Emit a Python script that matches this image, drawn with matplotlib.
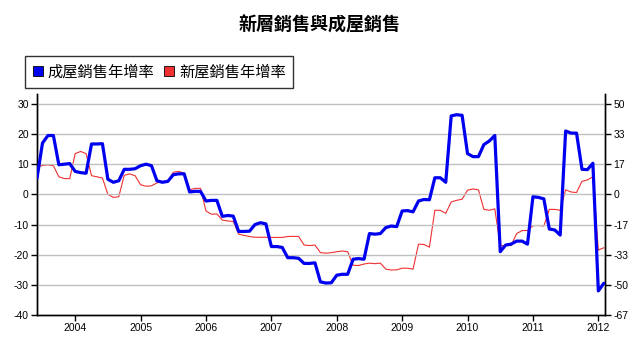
import matplotlib

matplotlib.use("Agg")
import matplotlib.pyplot as plt  # noqa: E402
from matplotlib.patches import Patch  # noqa: E402
import numpy as np  # noqa: E402

BLUE, RED, GRID = "#0000f0", "#f03030", "#c0c0c0"

# monthly, June 2003 .. Feb 2012
START_YEAR, START_MONTH = 2003, 6

# existing-home sales YoY (%), left axis
existing_yoy = [
    5.4, 17.0, 19.5, 19.5, 9.8, 10.0, 10.2, 7.6, 7.2, 7.0,
    16.7, 16.7, 16.8, 5.0, 4.0, 4.5, 8.3, 8.3, 8.5, 9.5,
    10.0, 9.5, 4.5, 4.0, 4.3, 6.5, 6.8, 6.8, 0.8, 1.0,
    1.0, -2.2, -2.0, -2.0, -7.3, -7.0, -7.2, -12.3, -12.3, -12.2,
    -10.0, -9.4, -9.8, -17.3, -17.3, -17.6, -21.0, -21.0, -21.2, -22.9,
    -22.9, -22.7, -29.0, -29.4, -29.3, -26.8, -26.5, -26.5, -21.5, -21.3,
    -21.5, -13.0, -13.2, -13.0, -11.0, -10.5, -10.7, -5.5, -5.4, -5.8,
    -2.2, -1.7, -1.8, 5.5, 5.5, 4.0, 26.0, 26.4, 26.2, 13.5,
    12.5, 12.5, 16.5, 17.7, 19.5, -19.0, -16.8, -16.5, -15.5, -15.5,
    -16.5, -0.8, -1.0, -1.5, -11.5, -11.8, -13.5, 21.0, 20.3, 20.3,
    8.3, 8.2, 10.3, -32.0, -29.5,
]

# new-home sales YoY (%), right axis
new_yoy = [
    15.0, 16.0, 16.3, 15.8, 9.7, 8.7, 8.7, 22.5, 23.7, 22.5,
    10.3, 9.7, 9.0, 0.0, -1.7, -1.3, 10.5, 11.3, 10.3, 5.3,
    4.5, 4.7, 6.3, 7.2, 7.2, 12.2, 12.7, 11.7, 2.5, 3.3,
    3.3, -9.2, -11.0, -10.8, -14.2, -14.7, -15.0, -22.0, -22.7, -23.3,
    -23.7, -23.7, -23.7, -23.8, -23.8, -23.8, -23.3, -23.2, -23.3, -28.0,
    -28.3, -28.0, -32.2, -32.5, -32.2, -31.7, -31.3, -31.7, -39.2, -39.3,
    -38.5, -38.0, -38.3, -38.0, -41.3, -41.8, -41.7, -40.8, -40.8, -41.3,
    -27.5, -27.7, -29.2, -8.8, -8.8, -10.5, -4.2, -3.3, -2.7, 2.3,
    3.0, 2.5, -8.3, -8.8, -8.0, -28.3, -28.3, -28.3, -21.7, -20.0,
    -20.0, -17.3, -17.2, -17.5, -8.3, -8.3, -8.8, 2.5, 1.3, 1.0,
    7.2, 8.0, 9.7, -30.8, -29.5,
]

years = list(range(2004, 2013))
left_ticks = [30, 20, 10, 0, -10, -20, -30, -40]
right_ticks = [50, 100 / 3, 50 / 3, 0, -50 / 3, -100 / 3, -50, -200 / 3]

CJK = ["Noto Sans CJK TC", "DejaVu Sans"]
plt.rcParams["font.family"] = ["Liberation Sans", "DejaVu Sans"]

t = START_YEAR + (START_MONTH - 1 + np.arange(len(existing_yoy))) / 12

fig = plt.figure(figsize=(6.39, 3.53), dpi=100)
ax = fig.add_axes([0.058, 0.1076, 0.889, 0.6264])
ax2 = ax.twinx()

ax.set_ylim(-40, 33.3)
ax2.set_ylim(-40 * 5 / 3, 33.3 * 5 / 3)
ax.set_xlim(2003.417, 2012.104)

for y in left_ticks[:-1]:
    ax.axhline(y, color=GRID, lw=1.0, zorder=0)

ax2.plot(t, new_yoy, color=RED, lw=0.8, zorder=2, solid_joinstyle="round")
ax.plot(t, existing_yoy, color=BLUE, lw=2.3, zorder=3,
        solid_joinstyle="round", solid_capstyle="round")
ax.set_zorder(ax2.get_zorder() + 1)
ax.patch.set_visible(False)

ax.set_yticks(left_ticks)
ax.set_yticklabels([str(v) for v in left_ticks])
ax2.set_yticks(right_ticks)
ax2.set_yticklabels([f"{round(v):d}" for v in right_ticks])
ax.set_xticks(years)
ax.set_xticklabels([str(y) for y in years])

for a in (ax, ax2):
    a.spines["top"].set_visible(False)
    for s in ("left", "right", "bottom"):
        a.spines[s].set_linewidth(1.0)
    a.tick_params(direction="out", length=4, width=1, labelsize=7.5, pad=2)

fig.text(0.5, 0.928, "新層銷售與成屋銷售", ha="center", va="center",
         fontsize=13, fontweight="bold", family=CJK)

handles = [Patch(facecolor=BLUE, edgecolor="black", lw=0.6),
           Patch(facecolor=RED, edgecolor="black", lw=0.6)]
leg = fig.legend(handles, ["成屋銷售年增率", "新屋銷售年增率"], ncol=2,
                 loc="upper left", bbox_to_anchor=(0.039, 0.842),
                 prop={"family": CJK, "size": 11}, frameon=True,
                 fancybox=False, edgecolor="black", handlelength=0.7,
                 handleheight=0.7, handletextpad=0.3, columnspacing=0.6,
                 borderpad=0.5, borderaxespad=0)
leg.get_frame().set_linewidth(1.0)

fig.savefig("out.png", dpi=100)
